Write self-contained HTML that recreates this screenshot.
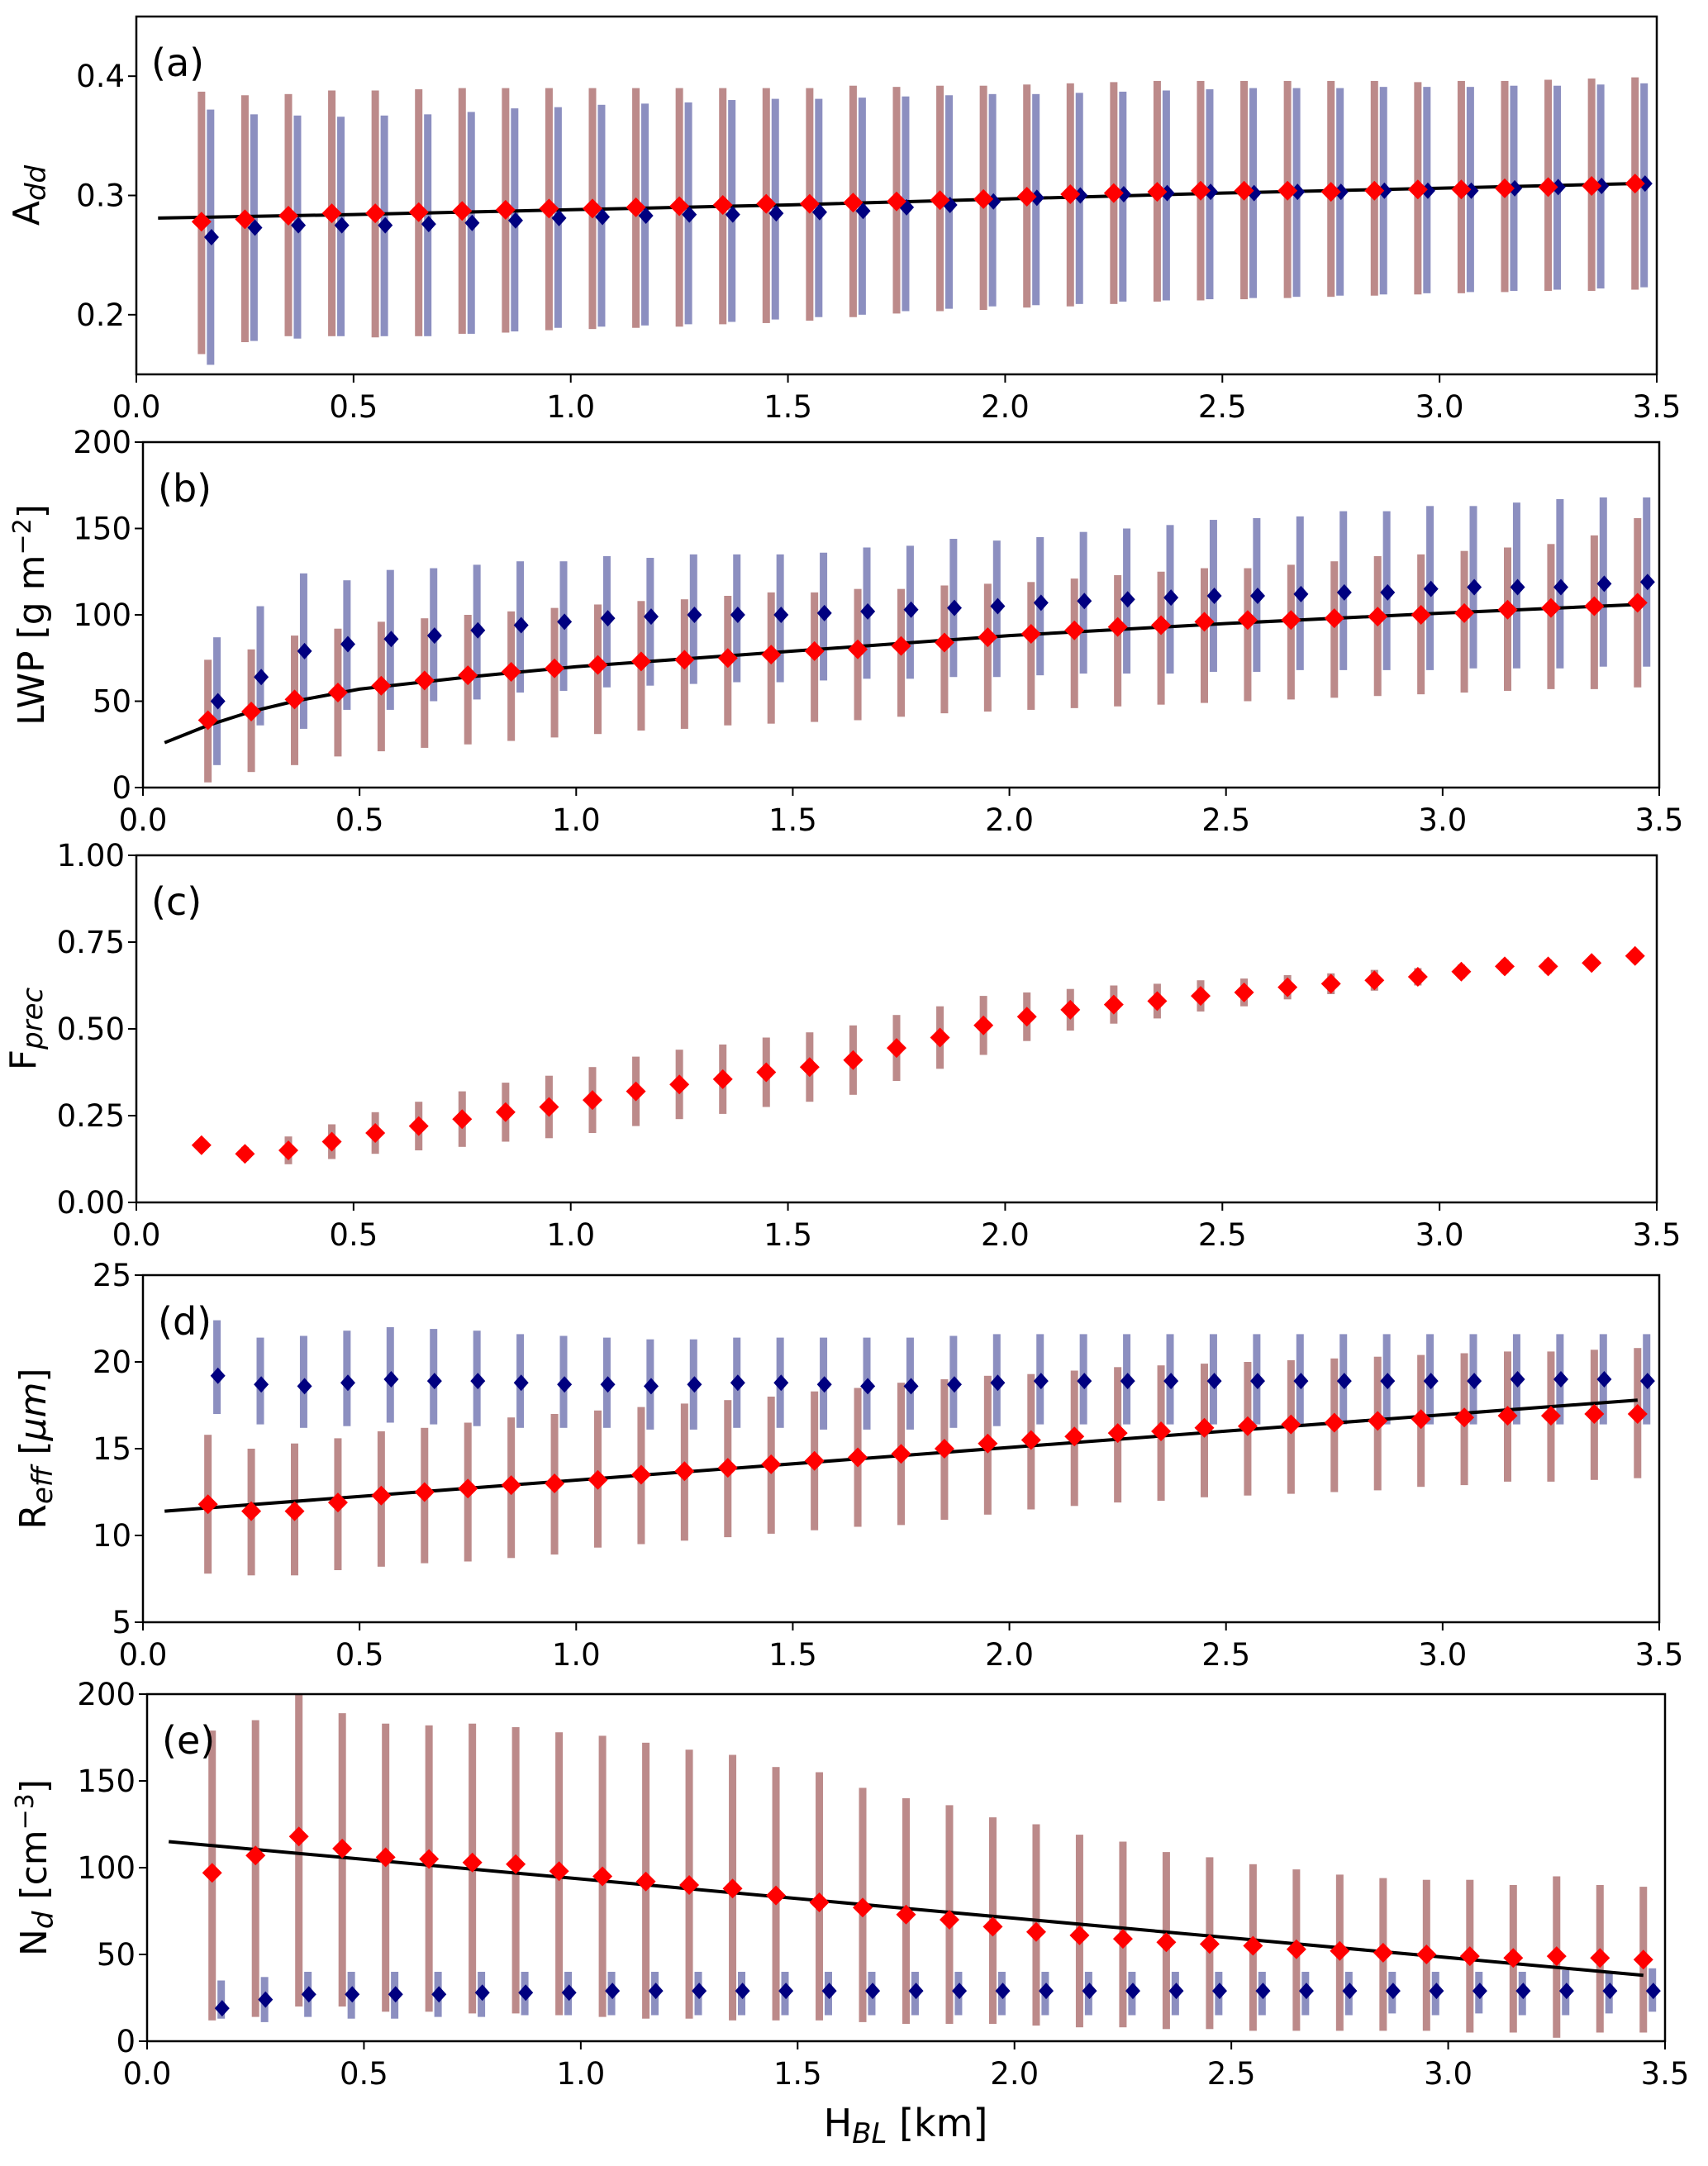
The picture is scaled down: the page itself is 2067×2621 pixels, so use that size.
<!DOCTYPE html>
<html><head><meta charset="utf-8"><style>
html,body{margin:0;padding:0;background:#fff;}
svg{display:block;font-family:"DejaVu Sans","Liberation Sans",sans-serif;}
</style></head><body>
<svg id="fig" width="2067" height="2621" viewBox="0 0 2067 2621" xmlns="http://www.w3.org/2000/svg"></svg>
<script>
const xRed = [0.15,0.25,0.35,0.45,0.55,0.65,0.75,0.85,0.95,1.05,1.15,1.25,1.35,1.45,1.55,1.65,1.75,1.85,1.95,2.05,2.15,2.25,2.35,2.45,2.55,2.65,2.75,2.85,2.95,3.05,3.15,3.25,3.35,3.45];
const xTicks = [0,0.5,1,1.5,2,2.5,3,3.5];
const xTickLabels = ["0.0","0.5","1.0","1.5","2.0","2.5","3.0","3.5"];

// Panel a
const aRed = [0.278,0.280,0.283,0.285,0.285,0.286,0.287,0.288,0.289,0.289,0.290,0.291,0.292,0.293,0.293,0.294,0.295,0.296,0.297,0.299,0.301,0.302,0.303,0.304,0.304,0.304,0.303,0.304,0.305,0.305,0.306,0.307,0.308,0.310];
const aRedHi = [0.387,0.384,0.385,0.388,0.388,0.389,0.390,0.390,0.390,0.390,0.390,0.390,0.390,0.390,0.390,0.392,0.391,0.392,0.392,0.393,0.394,0.395,0.396,0.396,0.396,0.396,0.396,0.396,0.395,0.396,0.396,0.397,0.398,0.399];
const aRedLo = [0.167,0.177,0.182,0.182,0.181,0.182,0.184,0.185,0.187,0.188,0.189,0.190,0.192,0.193,0.195,0.198,0.201,0.203,0.204,0.206,0.207,0.209,0.211,0.212,0.213,0.214,0.215,0.216,0.217,0.218,0.219,0.220,0.220,0.221];
const aBlue = [0.265,0.273,0.275,0.275,0.275,0.276,0.277,0.279,0.281,0.282,0.283,0.284,0.284,0.285,0.286,0.287,0.290,0.292,0.295,0.298,0.300,0.301,0.302,0.303,0.302,0.303,0.303,0.304,0.304,0.304,0.306,0.307,0.308,0.310];
const aBlueHi = [0.372,0.368,0.367,0.366,0.367,0.368,0.370,0.373,0.374,0.376,0.377,0.378,0.380,0.381,0.381,0.382,0.383,0.384,0.385,0.385,0.386,0.387,0.388,0.389,0.390,0.390,0.390,0.391,0.391,0.391,0.392,0.392,0.393,0.394];
const aBlueLo = [0.158,0.178,0.180,0.182,0.182,0.182,0.184,0.186,0.189,0.190,0.191,0.192,0.194,0.196,0.198,0.200,0.203,0.205,0.207,0.208,0.209,0.211,0.212,0.213,0.214,0.215,0.216,0.217,0.218,0.219,0.220,0.221,0.222,0.223];
const aFitX = [0.05,0.5,1,1.5,2,2.5,3,3.45];
const aFitY = [0.281,0.284,0.288,0.292,0.297,0.302,0.306,0.310];

// Panel b
const bRed = [39,44,51,55,59,62,65,67,69,71,73,74,75,77,79,80,82,84,87,89,91,93,94,96,97,97,98,99,100,101,103,104,105,107];
const bRedHi = [74,80,88,92,96,98,100,102,104,106,108,109,111,113,113,115,115,117,118,119,121,123,125,127,127,129,131,134,135,137,139,141,146,156];
const bRedLo = [3,9,13,18,21,23,25,27,29,31,33,34,36,37,38,39,41,43,44,45,46,47,48,49,50,51,52,53,54,55,56,57,57,58];
const bBlue = [50,64,79,83,86,88,91,94,96,98,99,100,100,100,101,102,103,104,105,107,108,109,110,111,111,112,113,113,115,116,116,116,118,119];
const bBlueHi = [87,105,124,120,126,127,129,131,131,134,133,135,135,135,136,139,140,144,143,145,148,150,152,155,156,157,160,160,163,163,165,167,168,168];
const bBlueLo = [13,36,34,45,45,50,51,55,56,58,59,60,61,61,62,63,63,64,64,65,66,66,66,67,67,68,68,68,68,69,69,69,70,70];
const bFitX = [0.05,0.15,0.25,0.35,0.5,0.75,1,1.5,2,2.5,3,3.45];
const bFitY = [26,36,44,50,57,64,70,79,88,95,101,106];

// Panel c
const cRed = [0.165,0.14,0.15,0.175,0.20,0.22,0.24,0.26,0.275,0.295,0.32,0.34,0.355,0.375,0.39,0.41,0.445,0.475,0.51,0.535,0.555,0.57,0.58,0.595,0.605,0.62,0.63,0.64,0.65,0.665,0.68,0.68,0.69,0.71];
const cRedHi = [0.175,0.16,0.19,0.225,0.26,0.29,0.32,0.345,0.365,0.39,0.42,0.44,0.455,0.475,0.49,0.51,0.54,0.565,0.595,0.605,0.615,0.625,0.63,0.64,0.645,0.655,0.66,0.67,0.675,0.685,0.70,0.70,0.705,0.725];
const cRedLo = [0.155,0.12,0.11,0.125,0.14,0.15,0.16,0.175,0.185,0.20,0.22,0.24,0.255,0.275,0.29,0.31,0.35,0.385,0.425,0.465,0.495,0.515,0.53,0.55,0.565,0.585,0.60,0.61,0.625,0.645,0.66,0.66,0.675,0.695];

// Panel d
const dRed = [11.8,11.4,11.4,11.9,12.3,12.5,12.7,12.9,13.0,13.2,13.5,13.7,13.9,14.1,14.3,14.5,14.7,15.0,15.3,15.5,15.7,15.9,16.0,16.2,16.3,16.4,16.5,16.6,16.7,16.8,16.9,16.9,17.0,17.0];
const dRedHi = [15.8,15.0,15.3,15.6,16.0,16.2,16.5,16.8,17.0,17.2,17.4,17.6,17.8,18.0,18.3,18.5,18.8,19.0,19.2,19.3,19.5,19.7,19.8,19.9,20.0,20.1,20.2,20.3,20.4,20.5,20.6,20.6,20.7,20.8];
const dRedLo = [7.8,7.7,7.7,8.0,8.2,8.4,8.5,8.7,8.9,9.3,9.5,9.7,9.9,10.1,10.3,10.5,10.6,10.9,11.2,11.5,11.7,11.9,12.0,12.2,12.3,12.4,12.5,12.6,12.8,12.9,13.1,13.1,13.2,13.3];
const dBlue = [19.2,18.7,18.6,18.8,19.0,18.9,18.9,18.8,18.7,18.7,18.6,18.7,18.8,18.8,18.7,18.6,18.6,18.7,18.8,18.9,18.9,18.9,18.9,18.9,18.9,18.9,18.9,18.9,18.9,18.9,19.0,19.0,19.0,18.9];
const dBlueHi = [22.4,21.4,21.5,21.8,22.0,21.9,21.8,21.6,21.5,21.4,21.3,21.3,21.4,21.4,21.4,21.4,21.4,21.5,21.6,21.6,21.6,21.6,21.6,21.6,21.6,21.6,21.6,21.6,21.6,21.6,21.6,21.6,21.6,21.6];
const dBlueLo = [17.0,16.4,16.2,16.3,16.5,16.4,16.3,16.2,16.2,16.2,16.1,16.1,16.2,16.2,16.1,16.1,16.1,16.2,16.3,16.4,16.4,16.4,16.4,16.4,16.4,16.4,16.4,16.4,16.4,16.4,16.4,16.4,16.4,16.4];
const dFitX = [0.05,3.45];
const dFitY = [11.4,17.8];

// Panel e
const eRed = [97,107,118,111,106,105,103,102,98,95,92,90,88,84,80,77,73,70,66,63,61,59,57,56,55,53,52,51,50,49,48,49,48,47];
const eRedHi = [179,185,201,189,183,182,183,181,178,176,172,168,165,158,155,146,140,136,129,125,119,115,109,106,102,99,96,94,93,93,90,95,90,89];
const eRedLo = [12,14,20,20,17,17,16,16,15,14,13,13,12,12,12,11,10,10,10,9,8,8,7,7,6,6,6,6,6,5,5,2,5,5];
const eBlue = [19,24,27,27,27,27,28,28,28,29,29,29,29,29,29,29,29,29,29,29,29,29,29,29,29,29,29,29,29,29,29,29,29,29];
const eBlueHi = [35,37,40,40,40,40,40,40,40,40,40,40,40,40,40,40,40,40,40,40,40,40,40,40,40,40,40,40,40,40,40,41,40,42];
const eBlueLo = [13,11,14,13,13,14,14,15,15,15,15,15,15,15,15,15,15,15,15,15,15,15,15,15,15,15,15,16,15,16,15,15,16,17];
const eFitX = [0.05,3.45];
const eFitY = [115,38];

const svg = document.getElementById('fig');
const NS = 'http://www.w3.org/2000/svg';
function mk(tag, attrs, parent){ const e=document.createElementNS(NS,tag); for(const k in attrs) e.setAttribute(k,attrs[k]); (parent||svg).appendChild(e); return e; }

const panels = [
 {id:'a', L:165,R:2005,T:20,B:453, ymin:0.15,ymax:0.45, yt:[0.2,0.3,0.4], ytl:['0.2','0.3','0.4'], yoff:118,
  red:aRed,rhi:aRedHi,rlo:aRedLo,blue:aBlue,bhi:aBlueHi,blo:aBlueLo,fx:aFitX,fy:aFitY,
  ylab:'A<tspan font-style="italic" font-size="34" dy="8">dd</tspan>'},
 {id:'b', L:173,R:2008,T:535,B:953, ymin:0,ymax:200, yt:[0,50,100,150,200], ytl:['0','50','100','150','200'], yoff:120,
  red:bRed,rhi:bRedHi,rlo:bRedLo,blue:bBlue,bhi:bBlueHi,blo:bBlueLo,fx:bFitX,fy:bFitY,
  ylab:'LWP [g m<tspan font-size="30" dy="-16">−2</tspan><tspan dy="16">]</tspan>'},
 {id:'c', L:165,R:2005,T:1035,B:1455, ymin:0,ymax:1, yt:[0,0.25,0.5,0.75,1], ytl:['0.00','0.25','0.50','0.75','1.00'], yoff:122,
  red:cRed,rhi:cRedHi,rlo:cRedLo,blue:null,fx:null,
  ylab:'F<tspan font-style="italic" font-size="34" dy="8">prec</tspan>'},
 {id:'d', L:173,R:2008,T:1543,B:1963, ymin:5,ymax:25, yt:[5,10,15,20,25], ytl:['5','10','15','20','25'], yoff:118,
  red:dRed,rhi:dRedHi,rlo:dRedLo,blue:dBlue,bhi:dBlueHi,blo:dBlueLo,fx:dFitX,fy:dFitY,
  ylab:'R<tspan font-style="italic" font-size="34" dy="8">eff</tspan><tspan dy="-8"> [</tspan><tspan font-style="italic">μm</tspan>]'},
 {id:'e', L:178,R:2015,T:2050,B:2470, ymin:0,ymax:200, yt:[0,50,100,150,200], ytl:['0','50','100','150','200'], yoff:122,
  red:eRed,rhi:eRedHi,rlo:eRedLo,blue:eBlue,bhi:eBlueHi,blo:eBlueLo,fx:eFitX,fy:eFitY,
  ylab:'N<tspan font-style="italic" font-size="34" dy="8">d</tspan><tspan dy="-8"> [cm</tspan><tspan font-size="30" dy="-16">−3</tspan><tspan dy="16">]</tspan>'}
];

const BOFF = 0.018;
panels.forEach(p=>{
  const g = mk('g',{});
  
  
  const xs = v => p.L + (v/3.5)*(p.R-p.L);
  const ys = v => p.B - (v-p.ymin)/(p.ymax-p.ymin)*(p.B-p.T);
  const cp = mk('clipPath',{id:'cp'+p.id},g);
  mk('rect',{x:p.L,y:p.T,width:p.R-p.L,height:p.B-p.T},cp);
  const plot = mk('g',{'clip-path':'url(#cp'+p.id+')'},g);
  xRed.forEach((x,i)=>{
    const r = mk('rect',{x:xs(x)-4.5,y:ys(p.rhi[i]),width:9,height:ys(p.rlo[i])-ys(p.rhi[i]),fill:'#bc8a8a'},plot);
    
    
    if(p.blue){
      const b = mk('rect',{x:xs(x+BOFF)-3,y:ys(p.bhi[i]),width:9,height:ys(p.blo[i])-ys(p.bhi[i]),fill:'#8c8fc0'},plot);
      
      
    }
  });
  if(p.fx){
    const pts = p.fx.map((x,i)=>xs(x).toFixed(1)+','+ys(p.fy[i]).toFixed(1)).join(' ');
    const l = mk('polyline',{points:pts,fill:'none',stroke:'#000','stroke-width':4},plot);
    
    
  }
  xRed.forEach((x,i)=>{
    if(p.blue){
      const cx=xs(x+BOFF+0.005), cy=ys(p.blue[i]);
      const m = mk('polygon',{points:`${cx},${cy-10} ${cx+9},${cy} ${cx},${cy+10} ${cx-9},${cy}`,fill:'#000080'},plot);
      
      
    }
    const cx=xs(x), cy=ys(p.red[i]);
    const m = mk('polygon',{points:`${cx},${cy-12} ${cx+12},${cy} ${cx},${cy+12} ${cx-12},${cy}`,fill:'#ff0000'},plot);
    
    
  });
  const fr = mk('rect',{x:p.L,y:p.T,width:p.R-p.L,height:p.B-p.T,fill:'none',stroke:'#000','stroke-width':2.5},g);
  
  
  xTicks.forEach((t,i)=>{
    mk('line',{x1:xs(t),x2:xs(t),y1:p.B,y2:p.B+10,stroke:'#000','stroke-width':2},g);
    const tx = mk('text',{x:xs(t),y:p.B+52,'font-size':37,'text-anchor':'middle'},g);
    tx.textContent = xTickLabels[i];
    
    
  });
  p.yt.forEach((t,i)=>{
    mk('line',{x1:p.L-10,x2:p.L,y1:ys(t),y2:ys(t),stroke:'#000','stroke-width':2},g);
    const tx = mk('text',{x:p.L-14,y:ys(t)+13,'font-size':37,'text-anchor':'end'},g);
    tx.textContent = p.ytl[i];
    
    
  });
  const yl = mk('text',{x:0,y:0,'font-size':44,'text-anchor':'middle',transform:`translate(${p.L-p.yoff},${(p.T+p.B)/2}) rotate(-90)`},g);
  yl.innerHTML = p.ylab;
  
  
  const pl = mk('text',{x:p.L+18,y:p.T+72,'font-size':46},g);
  pl.textContent = '('+p.id+')';
  
  
});
const xl = mk('text',{x:1096,y:2585,'font-size':46,'text-anchor':'middle'});
xl.innerHTML = 'H<tspan font-style="italic" font-size="34" dy="8">BL</tspan><tspan dy="-8"> [km]</tspan>';


</script>
</body></html>
